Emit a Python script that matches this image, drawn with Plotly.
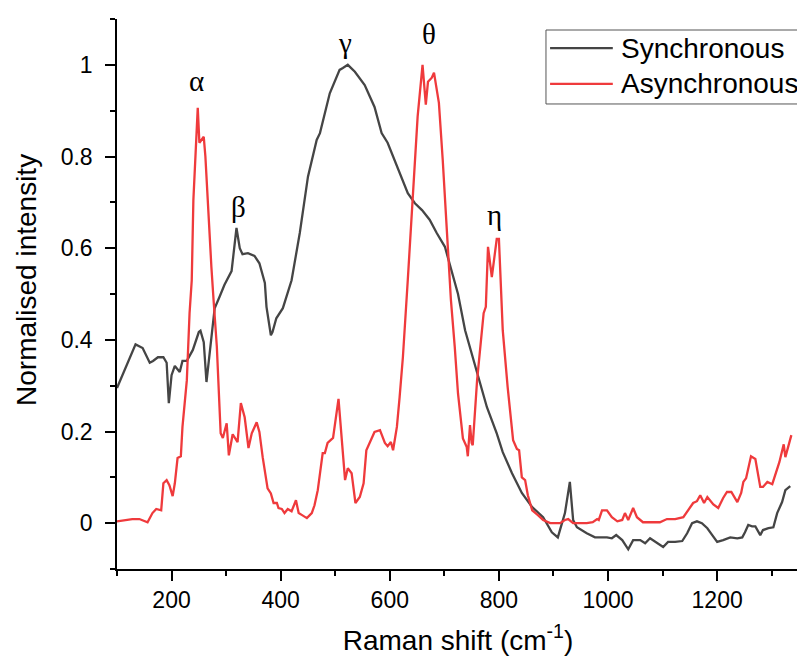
import plotly.graph_objects as go

sync_x = [100,134,147,160,166,175,185,191,195,200,206,215,220,228,239,250,253,259,264,273,279,288,297,310,314,319,325,330,340,352,361,371,374,382,385,392,404,413,420,435,450,466,472,490,503,508,514,521,523,536,549,554,572,585,596,609,622,633,646,659,673,686,701,714,725,738,760,778,796,807,824,842,861,881,897,908,921,930,936,943,961,976,998,1007,1015,1026,1037,1046,1059,1068,1077,1090,1101,1110,1123,1136,1145,1154,1163,1172,1182,1191,1200,1211,1224,1237,1246,1251,1257,1264,1270,1279,1284,1294,1303,1310,1319,1325,1334]
sync_y = [0.295,0.39,0.382,0.35,0.354,0.362,0.362,0.35,0.262,0.323,0.343,0.33,0.354,0.354,0.378,0.417,0.42,0.395,0.308,0.41,0.469,0.494,0.52,0.55,0.589,0.644,0.6,0.587,0.589,0.583,0.567,0.524,0.472,0.41,0.417,0.447,0.469,0.505,0.53,0.633,0.756,0.836,0.851,0.938,0.978,0.989,0.993,0.998,1.0,0.985,0.963,0.956,0.908,0.851,0.83,0.792,0.756,0.72,0.698,0.683,0.662,0.633,0.603,0.55,0.5,0.421,0.328,0.253,0.196,0.155,0.109,0.066,0.035,0.013,-0.02,-0.031,0.022,0.09,0.007,-0.009,-0.022,-0.031,-0.031,-0.033,-0.026,-0.037,-0.057,-0.037,-0.037,-0.044,-0.033,-0.044,-0.052,-0.041,-0.041,-0.039,-0.022,0.0,0.004,0.0,-0.011,-0.026,-0.041,-0.037,-0.031,-0.033,-0.031,-0.02,-0.004,-0.007,-0.007,-0.026,-0.015,-0.011,-0.009,0.022,0.046,0.072,0.081]

async_x = [100,128,141,156,165,172,181,185,191,196,202,206,211,217,220,228,233,237,240,248,251,255,259,262,266,273,277,283,290,294,301,305,312,321,327,334,341,347,356,361,367,376,382,387,393,396,402,407,413,420,428,433,440,448,457,462,468,477,481,486,496,506,518,523,530,537,545,552,557,563,572,582,591,596,602,606,613,618,624,633,642,651,660,666,670,677,681,690,697,705,712,719,725,734,741,743,747,750,752,760,769,772,776,780,787,796,800,805,807,816,826,833,837,842,848,853,861,872,881,894,912,921,927,936,961,972,980,983,989,998,1007,1017,1026,1031,1037,1046,1053,1064,1083,1095,1108,1123,1138,1147,1156,1163,1169,1176,1182,1193,1202,1211,1218,1226,1230,1237,1244,1248,1253,1262,1270,1273,1279,1284,1292,1301,1310,1314,1322,1325,1336]
async_y = [0.004,0.009,0.009,0.002,0.022,0.031,0.028,0.087,0.094,0.083,0.059,0.087,0.142,0.146,0.21,0.312,0.458,0.53,0.705,0.906,0.83,0.836,0.843,0.8,0.705,0.559,0.487,0.385,0.196,0.186,0.218,0.148,0.194,0.177,0.262,0.231,0.164,0.196,0.22,0.199,0.144,0.076,0.065,0.044,0.044,0.033,0.031,0.022,0.031,0.026,0.05,0.022,0.017,0.011,0.022,0.039,0.072,0.153,0.153,0.175,0.186,0.271,0.094,0.12,0.109,0.044,0.057,0.087,0.159,0.175,0.199,0.203,0.175,0.168,0.177,0.159,0.21,0.275,0.362,0.531,0.705,0.887,1.0,0.913,0.963,0.972,0.983,0.917,0.793,0.633,0.487,0.385,0.283,0.185,0.166,0.146,0.214,0.175,0.17,0.312,0.414,0.458,0.472,0.603,0.537,0.62,0.62,0.487,0.421,0.297,0.181,0.162,0.159,0.1,0.094,0.061,0.028,0.017,0.007,0.0,0.0,0.007,0.009,0.0,0.0,0.002,0.009,0.007,0.028,0.028,0.013,0.004,0.007,0.022,0.007,0.033,0.013,0.002,0.002,0.002,0.009,0.009,0.013,0.028,0.044,0.048,0.061,0.044,0.057,0.041,0.033,0.055,0.068,0.068,0.061,0.046,0.066,0.09,0.098,0.146,0.14,0.116,0.079,0.079,0.09,0.085,0.116,0.133,0.172,0.144,0.192]

series_names = ["Synchronous", "Asynchronous"]
series_colors = ["#454545", "#EF3A3C"]

peak_labels = ["α", "β", "γ", "θ", "η"]
peak_x = [246, 323, 517, 672, 791]
peak_y = [0.965, 0.69, 1.048, 1.068, 0.672]

x_ticks = [200, 400, 600, 800, 1000, 1200]
y_ticks = [0, 0.2, 0.4, 0.6, 0.8, 1]

FONT = "Liberation Sans, Arial, sans-serif"

fig = go.Figure()
for xs, ys, nm, col in [(sync_x, sync_y, series_names[0], series_colors[0]),
                        (async_x, async_y, series_names[1], series_colors[1])]:
    fig.add_trace(go.Scatter(x=xs, y=ys, mode="lines", name=nm, showlegend=False,
                             line=dict(color=col, width=2.3)))

for lab, px, py in zip(peak_labels, peak_x, peak_y):
    fig.add_annotation(x=px, y=py, xref="x", yref="y", text=lab, showarrow=False,
                       font=dict(family="Liberation Serif, Times New Roman, serif", size=29, color="black"))

# legend drawn in paper coordinates
leg_x0, leg_x1, leg_y0, leg_y1 = 0.629, 1.03, 0.8455, 0.98
row_y = [0.947, 0.882]
fig.add_shape(type="rect", xref="paper", yref="paper", x0=leg_x0, x1=leg_x1, y0=leg_y0, y1=leg_y1,
              line=dict(color="#555555", width=1), fillcolor="rgba(0,0,0,0)")
for nm, col, ry in zip(series_names, series_colors, row_y):
    fig.add_shape(type="line", xref="paper", yref="paper", x0=0.635, x1=0.727, y0=ry, y1=ry,
                  line=dict(color=col, width=2.3))
    fig.add_annotation(x=0.736, y=ry, xref="paper", yref="paper", text=nm, showarrow=False,
                       xanchor="left", yanchor="middle",
                       font=dict(family=FONT, size=28, color="black"))

# y-axis title
fig.add_annotation(x=-0.132, y=0.5255, xref="paper", yref="paper", text="Normalised intensity",
                   textangle=-90, showarrow=False, xanchor="center", yanchor="middle",
                   font=dict(family=FONT, size=28, color="black"))

fig.update_layout(
    width=805, height=657,
    margin=dict(l=109, r=14, t=11, b=96),
    plot_bgcolor="white", paper_bgcolor="white",
    font=dict(family=FONT, color="black"),
    showlegend=False,
    xaxis=dict(range=[100, 1350], showgrid=False, zeroline=False, automargin=False,
               showline=True, linecolor="black", linewidth=1.5,
               tickmode="array", tickvals=x_ticks,
               ticks="outside", ticklen=10, tickwidth=1.5, tickcolor="black",
               tickfont=dict(family=FONT, size=23),
               minor=dict(dtick=100, tick0=100, ticks="outside", ticklen=5, tickwidth=1.5, tickcolor="black"),
               title=dict(text="Raman shift (cm<sup>-1</sup>)", font=dict(family=FONT, size=28), standoff=18)),
    yaxis=dict(range=[-0.1, 1.1], showgrid=False, zeroline=False, automargin=False,
               showline=True, linecolor="black", linewidth=1.5,
               tickmode="array", tickvals=y_ticks,
               ticks="outside", ticklen=10, tickwidth=1.5, tickcolor="black",
               ticklabelstandoff=8,
               tickfont=dict(family=FONT, size=23),
               minor=dict(dtick=0.1, tick0=0, ticks="outside", ticklen=5, tickwidth=1.5, tickcolor="black")),
)

fig.write_html("out.html")
